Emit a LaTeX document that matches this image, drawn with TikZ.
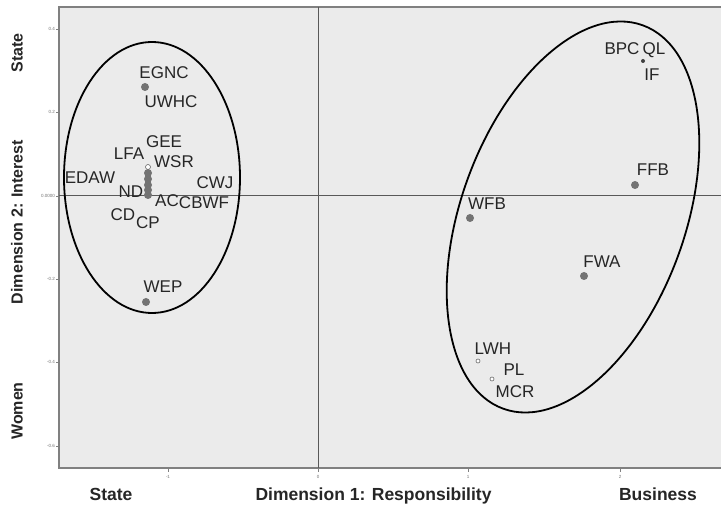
\documentclass[tikz,border=0pt]{standalone}
\usepackage{fontspec}
\setmainfont{Liberation Sans}
\begin{document}
\begin{tikzpicture}[x=1pt,y=-1pt,
  lab/.style={inner sep=0pt,font=\fontsize{17}{19}\selectfont,text=black!85,text height=12.2pt,text depth=0pt},
  axlab/.style={inner sep=0pt,font=\fontsize{17.5}{20}\bfseries\selectfont,text=black!85,text height=12.6pt,text depth=0pt},
  sidelab/.style={inner sep=0pt,font=\fontsize{16}{18}\bfseries\selectfont,text=black!85,rotate=90,text height=11.5pt,text depth=0pt},
  ticklab/.style={inner sep=0pt,font=\fontsize{4.5}{5}\selectfont,text=black!55},
  dot/.style={circle,fill=black!55,inner sep=0pt,minimum size=8pt},
  sdot/.style={circle,fill=black!75,inner sep=0pt,minimum size=4pt},
  odot/.style={circle,draw=black!60,fill=white,line width=0.6pt,inner sep=0pt,minimum size=4pt},
  clus/.style={draw=black,line width=1.8pt}]
\useasboundingbox (0,0) rectangle (721,505);
\fill[white] (0,0) rectangle (721,505);
% plot area
\fill[black!8] (59,7) rectangle (721,468);
\draw[black!50,line width=1.2pt] (721,7) -- (59,7) -- (59,468) -- (721,468);
% reference lines
\draw[black!65,line width=1pt] (318,7) -- (318,468);
\draw[black!65,line width=1pt] (59,196) -- (721,196);
% y ticks
\foreach \yy/\tl in {29/0.4,112/0.2,196/0.0000,279/-0.2,362/-0.4,446/-0.6}{
  \draw[black!50,line width=0.5pt] (56,\yy) -- (59,\yy);
  \node[ticklab,anchor=east] at (55,\yy) {\tl};
}
% x ticks
\foreach \xx/\tl in {168/-1,318/0,468/1,620/2}{
  \draw[black!50,line width=0.5pt] (\xx,468) -- (\xx,472);
  \node[ticklab] at (\xx,477) {\tl};
}
% clusters
\draw[clus] (152,177.5) ellipse [x radius=88, y radius=135.5];
\draw[clus] (573,217) ellipse [x radius=112, y radius=204, rotate=-20];
% left points
\node[dot] (egnc) at (145,87) {};
\node[odot,minimum size=5pt] (p1) at (148,167) {};
\node[dot] (p2) at (148,173) {};
\node[dot] (p3) at (148,179) {};
\node[dot] (p4) at (148,185) {};
\node[dot] (p5) at (148,190) {};
\node[dot] (p6) at (148,195) {};
\node[dot] (wep) at (146,302) {};
% right points
\node[sdot] (bpc) at (643,61) {};
\node[dot] (ffb) at (635,185) {};
\node[dot] (wfb) at (470,218) {};
\node[dot] (fwa) at (584,276) {};
\node[odot] (lwh) at (478,361) {};
\node[odot] (pl) at (492,379) {};
% labels left
\node[lab] (tEGNC) at (164,72) {EGNC};
\node[lab] (tUWHC) at (171,101) {UWHC};
\node[lab] (tGEE) at (164,141) {GEE};
\node[lab] (tLFA) at (129,153) {LFA};
\node[lab] (tWSR) at (174,161) {WSR};
\node[lab] (tEDAW) at (90,177) {EDAW};
\node[lab] (tCWJ) at (215,182) {CWJ};
\node[lab] (tND) at (131,191) {ND};
\node[lab] (tAC) at (167,200) {AC};
\node[lab] (tCBWF) at (204,202) {CBWF};
\node[lab] (tCD) at (123,214) {CD};
\node[lab] (tCP) at (148,222) {CP};
\node[lab] (tWEP) at (163,286) {WEP};
% labels right
\node[lab] (tBPC) at (622,48) {BPC};
\node[lab] (tQL) at (654,48) {QL};
\node[lab] (tIF) at (652,74) {IF};
\node[lab] (tFFB) at (653,169) {FFB};
\node[lab] (tWFB) at (487,203) {WFB};
\node[lab] (tFWA) at (602,261) {FWA};
\node[lab] (tLWH) at (493,348) {LWH};
\node[lab] (tPL) at (514,369) {PL};
\node[lab] (tMCR) at (515,391) {MCR};
% axis titles
\node[axlab] (xState) at (111,494) {State};
\node[axlab] (xDim) at (373.5,494) {Dimension 1: Responsibility};
\node[axlab] (xBus) at (658,494) {Business};
\node[sidelab] (yState) at (17,53) {State};
\node[sidelab] (yDim) at (17,222) {Dimension 2: Interest};
\node[sidelab] (yWomen) at (17,411) {Women};
\end{tikzpicture}
\end{document}
